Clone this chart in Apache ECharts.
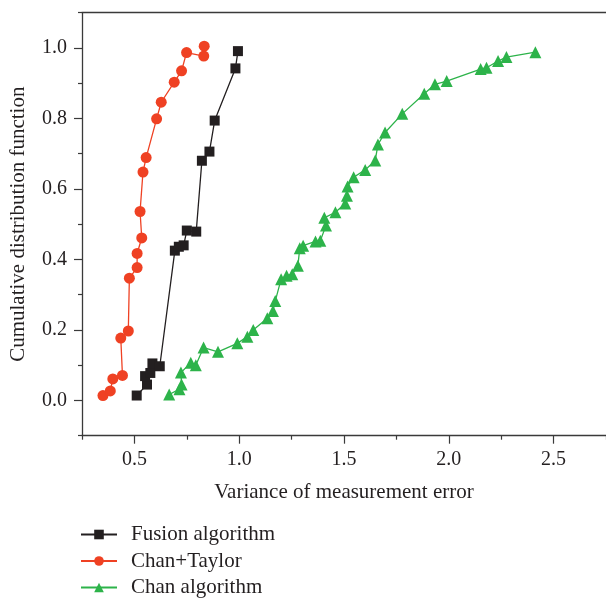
<!DOCTYPE html>
<html>
<head>
<meta charset="utf-8">
<script src="https://cdn.jsdelivr.net/npm/echarts@6/dist/echarts.min.js"></script>
<style>
html,body{margin:0;padding:0;background:#fff;}
#chart{width:606px;height:601px;}
</style>
</head>
<body>
<div id="chart"></div>
<script>
// Data
var fusionX = [0.511,0.560,0.551,0.576,0.586,0.621,0.693,0.712,0.735,0.750,0.795,0.822,0.858,0.883,0.982,0.994];
var fusionY = [0.014,0.045,0.069,0.078,0.105,0.097,0.425,0.436,0.440,0.482,0.479,0.680,0.706,0.794,0.942,0.991];

var taylorX = [0.350,0.385,0.397,0.443,0.435,0.471,0.476,0.513,0.513,0.535,0.527,0.541,0.556,0.606,0.628,0.690,0.725,0.749,0.831,0.833];
var taylorY = [0.014,0.027,0.061,0.071,0.177,0.197,0.347,0.377,0.417,0.461,0.536,0.648,0.689,0.799,0.846,0.903,0.935,0.987,0.977,1.005];

var chanX = [0.666,0.715,0.725,0.722,0.769,0.793,0.830,0.899,0.991,1.039,1.067,1.134,1.161,1.172,1.200,1.226,1.253,1.280,1.289,1.305,1.364,1.387,1.414,1.406,1.459,1.506,1.514,1.517,1.546,1.601,1.649,1.662,1.696,1.778,1.883,1.934,1.990,2.152,2.180,2.235,2.275,2.413];
var chanY = [0.017,0.032,0.045,0.079,0.107,0.100,0.150,0.138,0.162,0.181,0.200,0.233,0.254,0.282,0.344,0.354,0.358,0.382,0.432,0.439,0.451,0.453,0.496,0.518,0.534,0.559,0.581,0.607,0.633,0.654,0.681,0.726,0.760,0.813,0.870,0.897,0.906,0.940,0.944,0.963,0.974,0.988];

var seriesNames = ['Fusion algorithm','Chan+Taylor','Chan algorithm'];
var xTickLabels = [0.5,1.0,1.5,2.0,2.5];
var xMinorTicks = [0.25,0.75,1.25,1.75,2.25,2.75];
var yTickLabels = [0.0,0.2,0.4,0.6,0.8,1.0];
var yMinorTicks = [-0.1,0.1,0.3,0.5,0.7,0.9,1.1];

function pairs(xs, ys){ return xs.map(function(x,i){ return [x, ys[i]]; }); }

var FONT = '"Liberation Serif", "Times New Roman", serif';
var TXT = '#231f20';
var AX = '#3a3a3a';

var chart = echarts.init(document.getElementById('chart'), null, {renderer:'canvas'});
chart.setOption({
  animation: false,
  backgroundColor: '#ffffff',
  grid: {left: 80.7, top: 12.7, right: 0, bottom: 165.3, containLabel: false},
  legend: {
    orient: 'vertical', left: 80, top: 524, height: 120, padding: 0,
    itemWidth: 36, itemHeight: 12, itemGap: 5.5,
    data: seriesNames,
    textStyle: {fontFamily: FONT, fontSize: 21, color: TXT, lineHeight: 20, padding: [0,0,0,9]}
  },
  xAxis: [{
    type: 'value', min: 0.25, max: 2.75, position: 'bottom',
    name: 'Variance of measurement error', nameLocation: 'middle', nameGap: 46,
    nameTextStyle: {fontFamily: FONT, fontSize: 21, color: TXT},
    axisLine: {show: true, onZero: false, lineStyle: {color: AX, width: 1.3}},
    axisTick: {show: true, inside: false, length: 8, customValues: xTickLabels, lineStyle: {color: AX, width: 1.2}},
    axisLabel: {show: true, margin: 14, customValues: xTickLabels, fontFamily: FONT, fontSize: 20, color: TXT,
      formatter: function(v){ return v.toFixed(1); }},
    splitLine: {show: false}
  },{
    type: 'value', min: 0.25, max: 2.75, position: 'bottom', gridIndex: 0,
    axisLine: {show: false, onZero: false},
    axisTick: {show: true, inside: false, length: 4, customValues: xMinorTicks, lineStyle: {color: AX, width: 1.2}},
    axisLabel: {show: false},
    splitLine: {show: false}
  },{
    type: 'value', min: 0.25, max: 2.75, position: 'top',
    axisLine: {show: true, onZero: false, lineStyle: {color: AX, width: 1.3}},
    axisTick: {show: false}, axisLabel: {show: false}, splitLine: {show: false}
  }],
  yAxis: [{
    type: 'value', min: -0.1, max: 1.1, position: 'left',
    name: 'Cumulative distribution function', nameLocation: 'middle', nameGap: 53, nameRotate: 90,
    nameTextStyle: {fontFamily: FONT, fontSize: 21, color: TXT},
    axisLine: {show: true, onZero: false, lineStyle: {color: AX, width: 1.3}},
    axisTick: {show: true, inside: false, length: 8, customValues: yTickLabels, lineStyle: {color: AX, width: 1.2}},
    axisLabel: {show: true, margin: 15, customValues: yTickLabels, fontFamily: FONT, fontSize: 20, color: TXT,
      formatter: function(v){ return v.toFixed(1); }},
    splitLine: {show: false}
  },{
    type: 'value', min: -0.1, max: 1.1, position: 'left',
    axisLine: {show: false, onZero: false},
    axisTick: {show: true, inside: false, length: 4, customValues: yMinorTicks, lineStyle: {color: AX, width: 1.2}},
    axisLabel: {show: false},
    splitLine: {show: false}
  }],
  series: [{
    name: seriesNames[0], type: 'line', xAxisIndex: 0, yAxisIndex: 0,
    data: pairs(fusionX, fusionY),
    symbol: 'rect', symbolSize: 10,
    itemStyle: {color: '#231f20'}, lineStyle: {color: '#231f20', width: 1.3}
  },{
    name: seriesNames[1], type: 'line', xAxisIndex: 0, yAxisIndex: 0,
    data: pairs(taylorX, taylorY),
    symbol: 'circle', symbolSize: 11,
    itemStyle: {color: '#ef4123'}, lineStyle: {color: '#ef4123', width: 1.3}
  },{
    name: seriesNames[2], type: 'line', xAxisIndex: 0, yAxisIndex: 0,
    data: pairs(chanX, chanY),
    symbol: 'triangle', symbolSize: 12,
    itemStyle: {color: '#2db34a'}, lineStyle: {color: '#2db34a', width: 1.3}
  }]
});
</script>
</body>
</html>
